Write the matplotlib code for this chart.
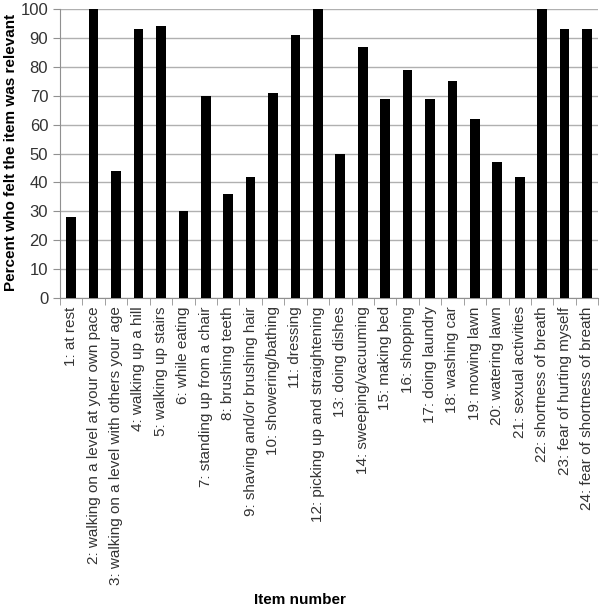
import numpy as np
from matplotlib import pyplot as plt

plt.rcParams['font.family'] = ['Liberation Sans', 'DejaVu Sans']

items = [
    "1: at rest",
    "2: walking on a level at your own pace",
    "3: walking on a level with others your age",
    "4: walking up a hill",
    "5: walking up stairs",
    "6: while eating",
    "7: standing up from a chair",
    "8: brushing teeth",
    "9: shaving and/or brushing hair",
    "10: showering/bathing",
    "11: dressing",
    "12: picking up and straightening",
    "13: doing dishes",
    "14: sweeping/vacuuming",
    "15: making bed",
    "16: shopping",
    "17: doing laundry",
    "18: washing car",
    "19: mowing lawn",
    "20: watering lawn",
    "21: sexual activities",
    "22: shortness of breath",
    "23: fear of hurting myself",
    "24: fear of shortness of breath",
]
percent = [28, 100, 44, 93, 94, 30, 70, 36, 42, 71, 91, 100,
           50, 87, 69, 79, 69, 75, 62, 47, 42, 100, 93, 93]

fig = plt.figure(figsize=(6, 6.1), dpi=100)
ax = fig.add_axes([0.1, 0.5115, 0.897, 0.4735])

x = np.arange(len(items))
ax.bar(x, percent, width=0.43, color="black", zorder=3)

ax.set_xlim(-0.5, len(items) - 0.5)
ax.set_ylim(0, 100)
ax.set_yticks(range(0, 101, 10))
ax.yaxis.grid(True, color="#b0b0b0", linewidth=1)
ax.set_axisbelow(True)

ax.set_xticks(x)
ax.set_xticklabels(items, rotation=90, fontsize=11, color="#333333")
ax.tick_params(axis="x", length=0, pad=6)
ax.set_xticks(np.arange(-0.5, len(items)), minor=True)
ax.tick_params(axis="x", which="minor", length=5, color="#909090")
ax.tick_params(axis="y", length=5, color="#909090", labelsize=12, labelcolor="#333333")

for s in ["top", "right"]:
    ax.spines[s].set_visible(False)
for s in ["left", "bottom"]:
    ax.spines[s].set_color("#909090")

fig.text(0.018, 0.75, "Percent who felt the item was relevant", rotation=90,
         ha="center", va="center", fontsize=11, fontweight="bold")
fig.text(0.5, 0.017, "Item number", ha="center", va="center", fontsize=11, fontweight="bold")

plt.savefig("out.png", dpi=100)
